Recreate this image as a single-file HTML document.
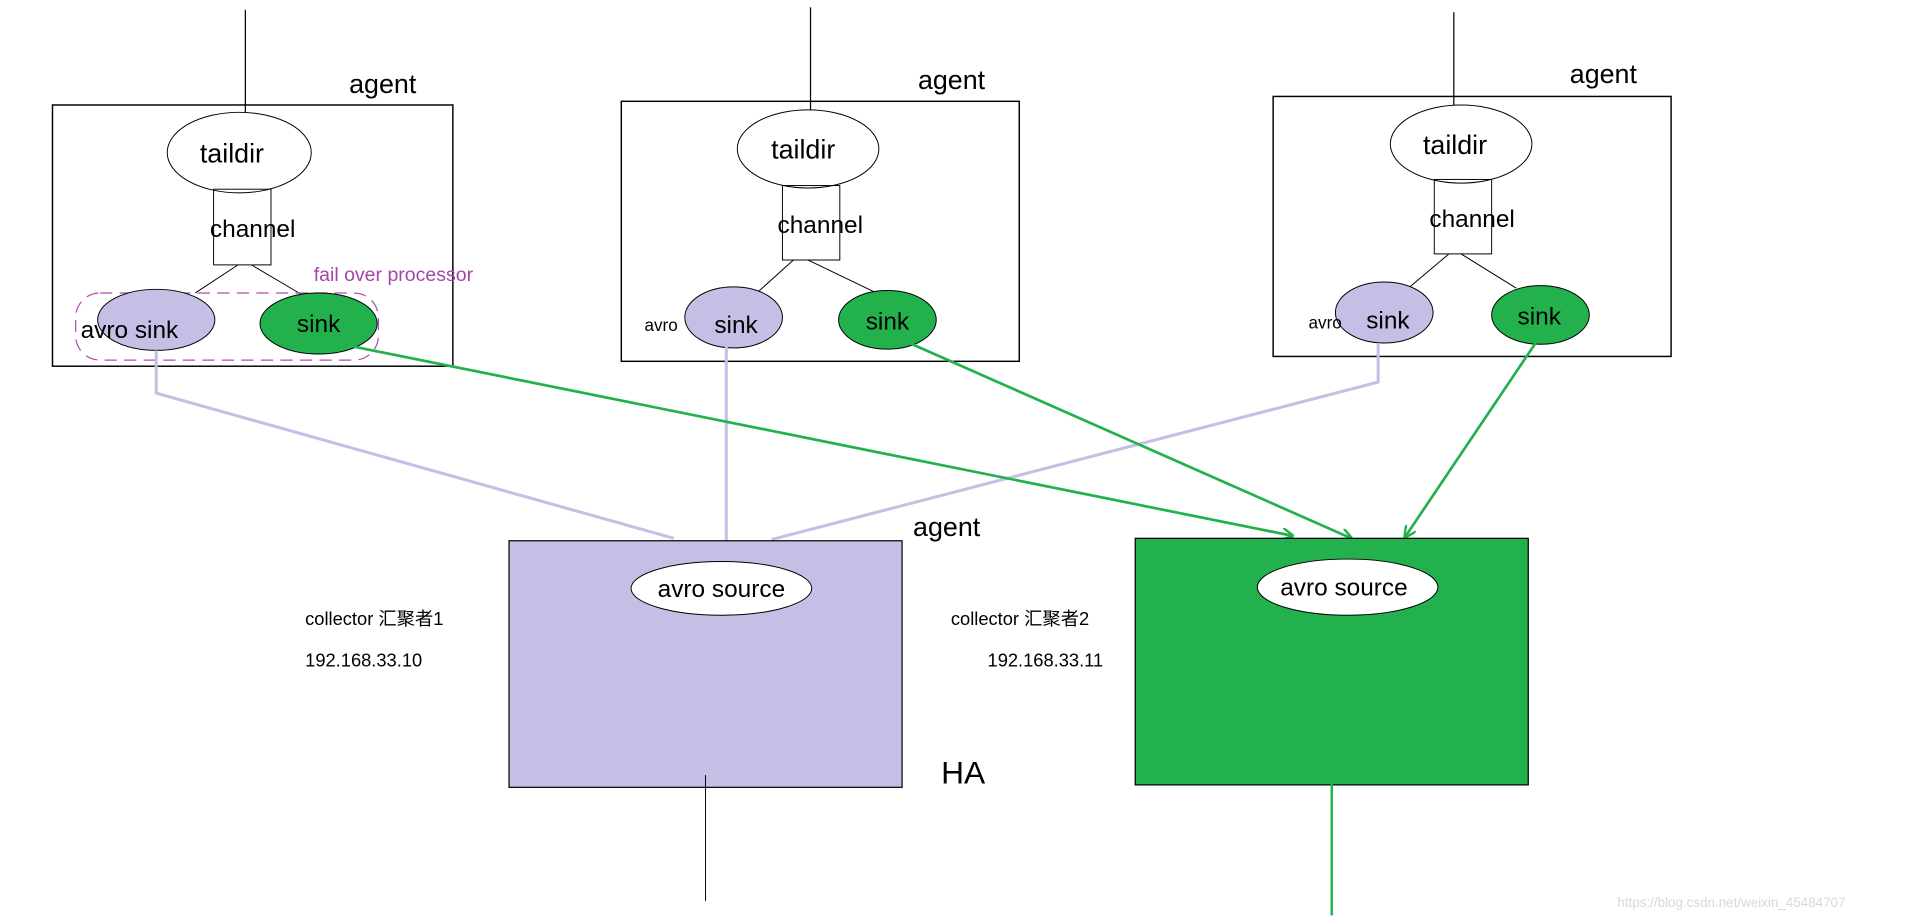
<!DOCTYPE html>
<html><head><meta charset="utf-8"><style>
html,body{margin:0;padding:0;background:#fff;}
svg{display:block;}
text{font-family:"Liberation Sans","Noto Sans CJK SC",sans-serif;}
</style></head><body>
<svg width="1914" height="916" viewBox="0 0 1568 750.4" xmlns="http://www.w3.org/2000/svg">
<defs>
<marker id="ga" viewBox="0 0 10 10" refX="9" refY="5" markerWidth="10" markerHeight="10" orient="auto" markerUnits="userSpaceOnUse"><path d="M0,0 L10,5 L0,10" fill="none" stroke="#22b14c" stroke-width="2"/></marker>
</defs>
<rect width="1568" height="751" fill="#fff"/>

<!-- Agent 1 -->
<line x1="201" y1="8" x2="201" y2="92" stroke="#000" stroke-width="1"/>
<rect x="43" y="86" width="328" height="214" fill="none" stroke="#000" stroke-width="1.2"/>
<text x="286" y="76" font-size="22">agent</text>
<ellipse cx="196" cy="125" rx="59" ry="33" fill="#fff" stroke="#000" stroke-width="0.8"/>
<text x="190" y="133" font-size="22" text-anchor="middle">taildir</text>
<rect x="175" y="155" width="47" height="62" fill="none" stroke="#000" stroke-width="0.8"/>
<text x="207" y="194" font-size="20" text-anchor="middle">channel</text>
<line x1="195" y1="217" x2="160" y2="240" stroke="#000" stroke-width="0.8"/>
<line x1="206" y1="217" x2="250" y2="243" stroke="#000" stroke-width="0.8"/>
<rect x="62" y="240" width="248" height="55" rx="20" fill="none" stroke="#b04bb0" stroke-width="1" stroke-dasharray="10,6"/>
<text x="257" y="230" font-size="16" fill="#a646a6">fail over processor</text>
<ellipse cx="128" cy="262" rx="48" ry="25" fill="#c5bfe6" stroke="#000" stroke-width="0.8"/>
<text x="66" y="277" font-size="20">avro sink</text>
<ellipse cx="261" cy="265" rx="48" ry="25" fill="#22b14c" stroke="#000" stroke-width="0.8"/>
<text x="261" y="272" font-size="20" text-anchor="middle">sink</text>

<!-- Agent 2 -->
<line x1="664" y1="6" x2="664" y2="90" stroke="#000" stroke-width="1"/>
<rect x="509" y="83" width="326" height="213" fill="none" stroke="#000" stroke-width="1.2"/>
<text x="752" y="73" font-size="22">agent</text>
<ellipse cx="662" cy="122" rx="58" ry="32" fill="#fff" stroke="#000" stroke-width="0.8"/>
<text x="658" y="130" font-size="22" text-anchor="middle">taildir</text>
<rect x="641" y="152" width="47" height="61" fill="none" stroke="#000" stroke-width="0.8"/>
<text x="672" y="191" font-size="20" text-anchor="middle">channel</text>
<line x1="650" y1="213" x2="620" y2="240" stroke="#000" stroke-width="0.8"/>
<line x1="662" y1="213" x2="718" y2="240" stroke="#000" stroke-width="0.8"/>
<ellipse cx="601" cy="260" rx="40" ry="25" fill="#c5bfe6" stroke="#000" stroke-width="0.8"/>
<text x="528" y="271" font-size="14">avro</text>
<text x="603" y="273" font-size="20" text-anchor="middle">sink</text>
<ellipse cx="727" cy="262" rx="40" ry="24" fill="#22b14c" stroke="#000" stroke-width="0.8"/>
<text x="727" y="270" font-size="20" text-anchor="middle">sink</text>

<!-- Agent 3 -->
<line x1="1191" y1="10" x2="1191" y2="92" stroke="#000" stroke-width="1"/>
<rect x="1043" y="79" width="326" height="213" fill="none" stroke="#000" stroke-width="1.2"/>
<text x="1286" y="68" font-size="22">agent</text>
<ellipse cx="1197" cy="118" rx="58" ry="32" fill="#fff" stroke="#000" stroke-width="0.8"/>
<text x="1192" y="126" font-size="22" text-anchor="middle">taildir</text>
<rect x="1175" y="147" width="47" height="61" fill="none" stroke="#000" stroke-width="0.8"/>
<text x="1206" y="186" font-size="20" text-anchor="middle">channel</text>
<line x1="1187" y1="208" x2="1155" y2="235" stroke="#000" stroke-width="0.8"/>
<line x1="1197" y1="208" x2="1242" y2="236" stroke="#000" stroke-width="0.8"/>
<ellipse cx="1134" cy="256" rx="40" ry="25" fill="#c5bfe6" stroke="#000" stroke-width="0.8"/>
<text x="1072" y="269" font-size="14">avro</text>
<text x="1137" y="269" font-size="20" text-anchor="middle">sink</text>
<ellipse cx="1262" cy="258" rx="40" ry="24" fill="#22b14c" stroke="#000" stroke-width="0.8"/>
<text x="1261" y="266" font-size="20" text-anchor="middle">sink</text>

<!-- connectors -->
<polyline points="128,287 128,322 552,441" fill="none" stroke="#c5bfe6" stroke-width="2.5"/>
<line x1="595" y1="284" x2="595" y2="443" stroke="#c5bfe6" stroke-width="2.5"/>
<polyline points="1129,281 1129,313 632,442" fill="none" stroke="#c5bfe6" stroke-width="2.5"/>
<line x1="290" y1="284" x2="1059" y2="439" stroke="#22b14c" stroke-width="2.2" marker-end="url(#ga)"/>
<line x1="745" y1="281" x2="1107" y2="441" stroke="#22b14c" stroke-width="2.2" marker-end="url(#ga)"/>
<line x1="1258" y1="281" x2="1151" y2="440" stroke="#22b14c" stroke-width="2.2" marker-end="url(#ga)"/>

<!-- collectors -->
<rect x="417" y="443" width="322" height="202" fill="#c5bfe6" stroke="#000" stroke-width="1"/>
<ellipse cx="591" cy="482" rx="74" ry="22" fill="#fff" stroke="#000" stroke-width="0.8"/>
<text x="591" y="489" font-size="20" text-anchor="middle">avro source</text>
<line x1="578" y1="635" x2="578" y2="738" stroke="#000" stroke-width="0.8"/>
<text x="748" y="439" font-size="22">agent</text>
<text x="250" y="512" font-size="15">collector 汇聚者1</text>
<text x="250" y="546" font-size="15">192.168.33.10</text>
<text x="771" y="642" font-size="26">HA</text>

<rect x="930" y="441" width="322" height="202" fill="#22b14c" stroke="#000" stroke-width="1"/>
<ellipse cx="1104" cy="481" rx="74" ry="23" fill="#fff" stroke="#000" stroke-width="0.8"/>
<text x="1101" y="488" font-size="20" text-anchor="middle">avro source</text>
<line x1="1091" y1="633" x2="1091" y2="750" stroke="#22b14c" stroke-width="2"/>
<text x="779" y="512" font-size="15">collector 汇聚者2</text>
<text x="809" y="546" font-size="15">192.168.33.11</text>

<text x="1325" y="743" font-size="11" fill="#d8d8d8">https://blog.csdn.net/weixin_45484707</text>
</svg>
</body></html>
